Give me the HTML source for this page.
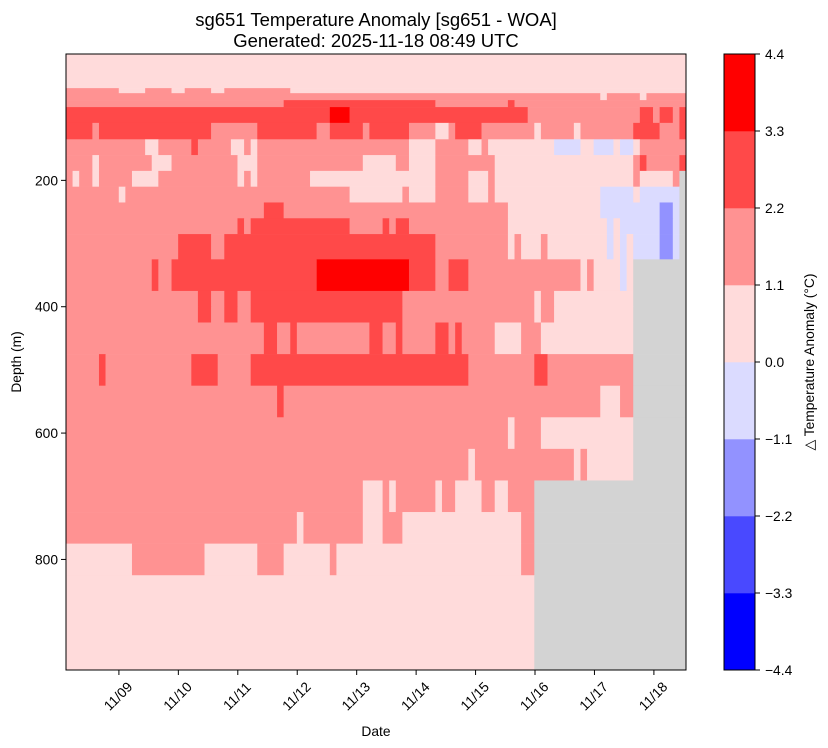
<!DOCTYPE html>
<html><head><meta charset="utf-8"><style>
body{margin:0;background:#fff;}
svg{display:block;font-family:"Liberation Sans",sans-serif;}
</style></head><body>
<svg id="chart" width="828" height="748" xmlns="http://www.w3.org/2000/svg">
<text x="376" y="26" font-size="18.5" text-anchor="middle">sg651 Temperature Anomaly [sg651 - WOA]</text>
<text x="376" y="47" font-size="18.5" text-anchor="middle">Generated: 2025-11-18 08:49 UTC</text>
<g id="cells"></g>
<g id="axes"></g>
<g id="cbar"></g>
</svg>
<script>
// ---- data ----
const P=0.5,M=1.6,R=2.7,X=3.8,B=-0.5,B2=-1.6,G=null;
const nDives=94;
const depthEdges=[0,54,62,73,84,109,135,160,185,210,235,260,285,325,375,400,425,475,525,575,625,675,725,775,825,975];
// each row: runs of [anomaly value, end dive index]
const row00=[[P,94]];
const row01=[[M,8],[P,12],[M,16],[P,18],[M,22],[P,24],[M,34],[P,94]];
const row02=[[M,81],[P,82],[M,87],[P,88],[M,94]];
const row03=[[M,33],[R,56],[M,67],[R,68],[M,94]];
const row04=[[R,40],[X,43],[R,70],[M,87],[R,89],[M,90],[R,92],[M,93],[R,94]];
const row05=[[R,4],[M,5],[R,22],[M,29],[R,38],[M,40],[R,45],[M,46],[R,52],[M,56],[P,58],[M,59],[R,63],[M,71],[P,72],[M,77],[P,78],[M,86],[R,90],[M,93],[R,94]];
const row06=[[M,12],[P,14],[M,19],[R,20],[M,25],[P,27],[M,28],[P,29],[M,52],[P,56],[M,61],[P,63],[M,64],[P,74],[B,78],[P,80],[B,83],[P,84],[B,86],[P,87],[M,94]];
const row07=[[M,4],[P,5],[M,13],[P,16],[M,26],[P,29],[M,45],[P,50],[M,52],[P,56],[M,65],[P,86],[M,87],[R,88],[M,93],[R,94]];
const row08=[[M,1],[P,2],[M,4],[P,5],[M,10],[P,14],[M,26],[P,27],[M,28],[P,29],[M,37],[P,56],[M,61],[P,64],[M,65],[P,86],[M,87],[P,92],[M,93],[G,94]];
const row09=[[M,8],[P,9],[M,43],[P,51],[M,52],[P,56],[M,61],[P,64],[M,65],[P,81],[B,86],[P,87],[B,93],[G,94]];
const row10=[[M,30],[R,33],[M,67],[P,81],[B,90],[B2,92],[B,93],[G,94]];
const row11=[[M,26],[R,27],[M,28],[R,43],[M,48],[R,49],[M,50],[R,52],[M,67],[P,82],[B,83],[P,84],[B,90],[B2,92],[B,93],[G,94]];
const row12=[[M,17],[R,22],[M,24],[R,56],[M,67],[P,68],[M,69],[P,72],[M,73],[P,82],[B,83],[P,84],[B,85],[P,86],[B,90],[B2,92],[B,93],[G,94]];
const row13=[[M,13],[R,14],[M,16],[R,38],[X,52],[R,56],[M,58],[R,61],[M,78],[P,79],[M,80],[P,84],[B,85],[P,86],[G,94]];
const row14=[[M,20],[R,22],[M,24],[R,26],[M,28],[R,51],[M,71],[P,72],[M,74],[P,86],[G,94]];
const row15=[[M,20],[R,22],[M,24],[R,26],[M,28],[R,51],[M,71],[P,72],[M,74],[P,86],[G,94]];
const row16=[[M,30],[R,32],[M,34],[R,35],[M,46],[R,48],[M,50],[R,51],[M,56],[R,58],[M,59],[R,60],[M,65],[P,69],[M,72],[P,86],[G,94]];
const row17=[[M,5],[R,6],[M,19],[R,23],[M,28],[R,61],[M,71],[R,73],[M,86],[G,94]];
const row18=[[M,32],[R,33],[M,81],[P,84],[M,86],[G,94]];
const row19=[[M,67],[P,68],[M,72],[P,86],[G,94]];
const row20=[[M,61],[P,62],[M,77],[P,78],[M,79],[P,86],[G,94]];
const row21=[[M,45],[P,48],[M,49],[P,50],[M,56],[P,57],[M,59],[P,63],[M,65],[P,67],[M,71],[G,94]];
const row22=[[M,35],[P,36],[M,45],[P,48],[M,51],[P,69],[M,71],[G,94]];
const row23=[[P,10],[M,21],[P,29],[M,33],[P,40],[M,41],[P,69],[M,71],[G,94]];
const row24=[[P,71],[G,94]];
const rows=[row00,row01,row02,row03,row04,row05,row06,row07,row08,row09,row10,row11,row12,row13,row14,row15,row16,row17,row18,row19,row20,row21,row22,row23,row24];
const dateTicks=[1,2,3,4,5,6,7,8,9,10]; // days after Nov 8
const dateLabels=["11/09","11/10","11/11","11/12","11/13","11/14","11/15","11/16","11/17","11/18"];
const depthTicks=[200,400,600,800];
const cbBounds=[-4.4,-3.3,-2.2,-1.1,0.0,1.1,2.2,3.3,4.4];
const cbLabels=["\u22124.4","\u22123.3","\u22122.2","\u22121.1","0.0","1.1","2.2","3.3","4.4"];
const cbColors=["#0000ff","#4949ff","#9292ff","#dbdbff","#ffdbdb","#ff9292","#ff4949","#ff0000"];

// ---- scales ----
const L=66,Rr=686,T=54,Bt=670;
const dayStart=0.11,dayEnd=10.54;
const xDay=d=>L+(d-dayStart)/(dayEnd-dayStart)*(Rr-L);
const xDive=i=>L+i/nDives*(Rr-L);
const yDepth=d=>T+d/975*(Bt-T);
function colorFor(v){
  if(v===null) return "#d3d3d3";
  for(let k=0;k<8;k++){ if(v<cbBounds[k+1]) return cbColors[k]; }
  return cbColors[7];
}
const NS="http://www.w3.org/2000/svg";
function mk(tag,attrs,parent){const e=document.createElementNS(NS,tag);for(const k in attrs)e.setAttribute(k,attrs[k]);parent.appendChild(e);return e;}

const cells=document.getElementById('cells');
rows.forEach((runs,ri)=>{
  let start=0;
  const y0=yDepth(depthEdges[ri]),y1=yDepth(depthEdges[ri+1]);
  runs.forEach(([v,end])=>{
    const x0=xDive(start),x1=xDive(end);
    const r=mk('rect',{x:x0.toFixed(2),y:y0.toFixed(2),width:(x1-x0+0.3).toFixed(2),height:(y1-y0+0.3).toFixed(2),fill:colorFor(v)},cells);
    
    
    start=end;
  });
});

const axes=document.getElementById('axes');
const frame=mk('rect',{x:L,y:T,width:Rr-L,height:Bt-T,fill:'none',stroke:'#000','stroke-width':1},axes);


dateTicks.forEach((d,i)=>{
  const x=xDay(d);
  const t=mk('line',{x1:x,y1:Bt,x2:x,y2:Bt+5,stroke:'#000','stroke-width':1},axes);
  
  
  const lb=mk('text',{transform:`translate(${x},697) rotate(-45)`,'font-size':13.8,'text-anchor':'middle','dominant-baseline':'middle'},axes);
  lb.textContent=dateLabels[i];
  
  
});
depthTicks.forEach(d=>{
  const y=yDepth(d);
  const t=mk('line',{x1:L-5,y1:y,x2:L,y2:y,stroke:'#000','stroke-width':1},axes);
  
  
  const lb=mk('text',{x:L-8,y:y+5,'font-size':13.8,'text-anchor':'end'},axes);
  lb.textContent=String(d);
  
  
});
const xt=mk('text',{x:376,y:736,'font-size':13.8,'text-anchor':'middle'},axes);
xt.textContent='Date';


const yt=mk('text',{transform:'translate(21,362) rotate(-90)','font-size':13.8,'text-anchor':'middle'},axes);
yt.textContent='Depth (m)';



const cb=document.getElementById('cbar');
const cL=724,cR=755;
const yCb=v=>Bt-(v+4.4)/8.8*(Bt-T);
cbColors.forEach((c,k)=>{
  const y0=yCb(cbBounds[k+1]),y1=yCb(cbBounds[k]);
  const r=mk('rect',{x:cL,y:y0,width:cR-cL,height:y1-y0+0.3,fill:c},cb);
  
  
});
const cf=mk('rect',{x:cL,y:T,width:cR-cL,height:Bt-T,fill:'none',stroke:'#000','stroke-width':1},cb);


cbBounds.forEach((v,k)=>{
  const y=yCb(v);
  const t=mk('line',{x1:cR,y1:y,x2:cR+5,y2:y,stroke:'#000','stroke-width':1},cb);
  
  
  const lb=mk('text',{x:cR+10,y:y+5,'font-size':13.8},cb);
  lb.textContent=cbLabels[k];
  
  
});
const ct=mk('text',{transform:'translate(814,362) rotate(-90)','font-size':13.8,'text-anchor':'middle'},cb);
ct.textContent='\u25B3 Temperature Anomaly (\u00B0C)';


</script>
</body></html>
